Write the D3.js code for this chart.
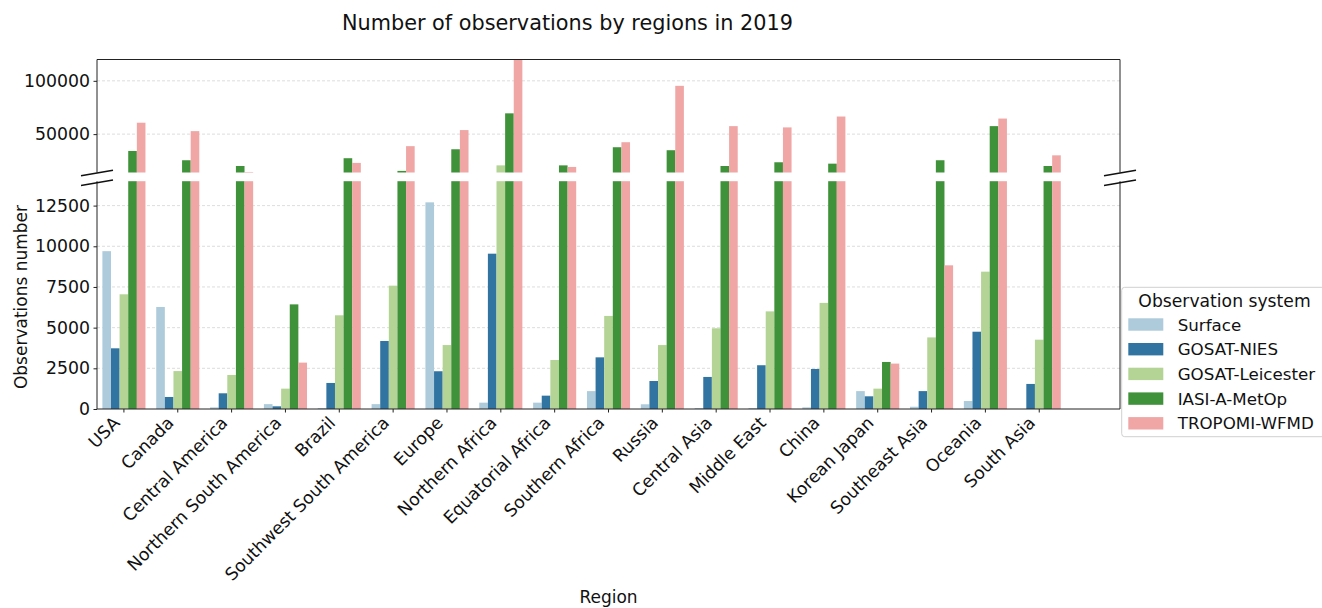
<!DOCTYPE html>
<html>
<head>
<meta charset="utf-8">
<script src="https://cdn.jsdelivr.net/npm/d3@7"></script>
<style>
  body { margin: 0; background: #fff; }
  svg { display: block; font-family: "DejaVu Sans", sans-serif; }
  svg text { font-family: "DejaVu Sans", sans-serif; }
</style>
</head>
<body>
<svg id="chart" width="1322" height="608"></svg>
<script>
const regions = ["USA","Canada","Central America","Northern South America","Brazil","Southwest South America","Europe","Northern Africa","Equatorial Africa","Southern Africa","Russia","Central Asia","Middle East","China","Korean Japan","Southeast Asia","Oceania","South Asia"];
const systems = ["Surface","GOSAT-NIES","GOSAT-Leicester","IASI-A-MetOp","TROPOMI-WFMD"];
const colors = ["#aecbdb","#3274a1","#b3d495","#40923a","#efa6a5"];
const surface   = [9700, 6270, 100, 300, 60, 300, 12700, 390, 390, 1100, 290, 60, 60, 100, 1100, 140, 490, 0];
const gosatNies = [3730, 740, 965, 165, 1600, 4180, 2320, 9545, 820, 3175, 1720, 1970, 2690, 2460, 780, 1100, 4750, 1540];
const gosatLeic = [7050, 2330, 2090, 1250, 5760, 7580, 3930, 20700, 3010, 5720, 3930, 4960, 6000, 6520, 1250, 4400, 8440, 4260];
const iasi      = [34200, 25500, 20100, 6430, 27400, 15500, 35800, 69500, 20700, 37700, 34900, 20100, 23600, 22300, 2890, 25500, 57500, 20100];
const tropomi   = [60700, 52800, 14500, 2850, 23000, 38700, 53800, 121000, 19200, 42400, 95300, 57500, 56300, 66500, 2790, 8830, 64600, 30100];
const seriesValues = [surface, gosatNies, gosatLeic, iasi, tropomi];
const topTicks = [50000, 100000];
const bottomTicks = [0, 2500, 5000, 7500, 10000, 12500];
const breakValue = 14000;
const topMax = 120000;

const svg = d3.select("#chart");
const tickFont = 17.3, labelFont = 17, legendFont = 16.7, titleFont = 20.8;
const left = 97, right = 1120;
const topPanel = {y0: 59.5, y1: 172.5};
const botPanel = {y0: 181.2, y1: 409};

const bw = (right - left) / (regions.length + 1);
const x = d3.scaleBand().domain(regions).range([left, left + bw * regions.length]).padding(0);
const xi = d3.scaleBand().domain(systems).range([0.1 * bw, 0.9 * bw]).padding(0);
const yTop = d3.scaleLinear().domain([breakValue, topMax]).range([topPanel.y1, topPanel.y0]).clamp(true);
const yBot = d3.scaleLinear().domain([0, breakValue]).range([botPanel.y1, botPanel.y0]).clamp(true);

// grid
const grid = svg.append("g");
grid.selectAll("line.gt").data(topTicks).join("line")
  .attr("x1", left).attr("x2", right).attr("y1", d => yTop(d)).attr("y2", d => yTop(d))
  .attr("stroke", "#d4d4d4").attr("stroke-dasharray", "3,2").attr("stroke-width", 0.8);
grid.selectAll("line.gb").data(bottomTicks.filter(d => d > 0)).join("line")
  .attr("x1", left).attr("x2", right).attr("y1", d => yBot(d)).attr("y2", d => yBot(d))
  .attr("stroke", "#d4d4d4").attr("stroke-dasharray", "3,2").attr("stroke-width", 0.8);

// bars
const flat = [];
seriesValues.forEach((vals, si) => vals.forEach((v, ri) => flat.push({region: regions[ri], sys: systems[si], si, v})));
const bars = svg.append("g");
bars.selectAll("rect.b").data(flat.filter(d => d.v > 0)).join("rect")
  .attr("x", d => x(d.region) + xi(d.sys))
  .attr("width", xi.bandwidth())
  .attr("y", d => yBot(Math.min(d.v, breakValue)))
  .attr("height", d => yBot(0) - yBot(Math.min(d.v, breakValue)))
  .attr("fill", d => colors[d.si]);
bars.selectAll("rect.t").data(flat.filter(d => d.v > breakValue)).join("rect")
  .attr("x", d => x(d.region) + xi(d.sys))
  .attr("width", xi.bandwidth())
  .attr("y", d => yTop(d.v))
  .attr("height", d => yTop(breakValue) - yTop(d.v))
  .attr("fill", d => colors[d.si]);

// axes
const topAxis = d3.axisLeft(yTop).tickValues(topTicks).tickSize(3.5).tickPadding(3.5).tickFormat(d3.format("d"));
const gTop = svg.append("g").attr("transform", `translate(${left},0)`).call(topAxis);
const botAxis = d3.axisLeft(yBot).tickValues(bottomTicks).tickSize(3.5).tickPadding(3.5).tickFormat(d3.format("d"));
const gBot = svg.append("g").attr("transform", `translate(${left},0)`).call(botAxis);
const xAxis = d3.axisBottom(x).tickSize(3.5).tickFormat("");
const gX = svg.append("g").attr("transform", `translate(0,${botPanel.y1})`).call(xAxis);
[gTop, gBot, gX].forEach(g => {
  g.attr("font-family", null).attr("font-size", null);
  g.select(".domain").remove();
  g.selectAll("line").attr("stroke", "#222");
  g.selectAll("text").style("font-size", tickFont + "px").attr("fill", "#111");
});

// rotated x labels
svg.append("g").selectAll("text").data(regions).join("text")
  .attr("transform", d => `translate(${x(d) + bw / 2 - 3},${424}) rotate(-45)`)
  .attr("text-anchor", "end")
  .style("font-size", tickFont + "px").attr("fill", "#111")
  .text(d => d);

// spines
const sp = svg.append("g").attr("stroke", "#222").attr("stroke-width", 1).attr("fill", "none");
sp.append("path").attr("d", `M${left},${topPanel.y1}V${topPanel.y0}H${right}V${topPanel.y1}`);
sp.append("path").attr("d", `M${left},${botPanel.y0}V${botPanel.y1}H${right}V${botPanel.y0}`);

// break marks
const bm = svg.append("g").attr("stroke", "#111").attr("stroke-width", 1.5);
[left, right].forEach(cx => {
  [topPanel.y1 + 0.5, botPanel.y0 + 1.5].forEach(cy => {
    bm.append("line").attr("x1", cx - 16).attr("y1", cy + 2.7).attr("x2", cx + 16).attr("y2", cy - 2.7);
  });
});

// title & labels
svg.append("text").attr("x", 567.5).attr("y", 29.5).attr("text-anchor", "middle")
  .style("font-size", titleFont + "px").attr("fill", "#111").text("Number of observations by regions in 2019");
svg.append("text").attr("x", 608.5).attr("y", 603).attr("text-anchor", "middle")
  .style("font-size", labelFont + "px").attr("fill", "#111").text("Region");
svg.append("text").attr("transform", "translate(26.5,297) rotate(-90)").attr("text-anchor", "middle")
  .style("font-size", labelFont + "px").attr("fill", "#111").text("Observations number");

// legend
const lg = svg.append("g");
lg.append("rect").attr("x", 1121.7).attr("y", 287.3).attr("width", 215).attr("height", 149.4)
  .attr("rx", 3).attr("fill", "#fff").attr("fill-opacity", 0.8).attr("stroke", "#d0d0d0").attr("stroke-width", 1);
lg.append("text").attr("x", 1224.5).attr("y", 301).attr("dominant-baseline", "central").attr("text-anchor", "middle")
  .style("font-size", "17.2px").attr("fill", "#111").text("Observation system");
const items = lg.selectAll("g.item").data(systems).join("g")
  .attr("transform", (d, i) => `translate(0,${324.5 + i * 24.7})`);
items.append("rect").attr("x", 1128.3).attr("y", -6.2).attr("width", 35).attr("height", 12.4)
  .attr("fill", (d, i) => colors[i]);
items.append("text").attr("x", 1177.7).attr("y", 0).attr("dominant-baseline", "central")
  .style("font-size", legendFont + "px").attr("fill", "#111").text(d => d);
</script>
</body>
</html>
